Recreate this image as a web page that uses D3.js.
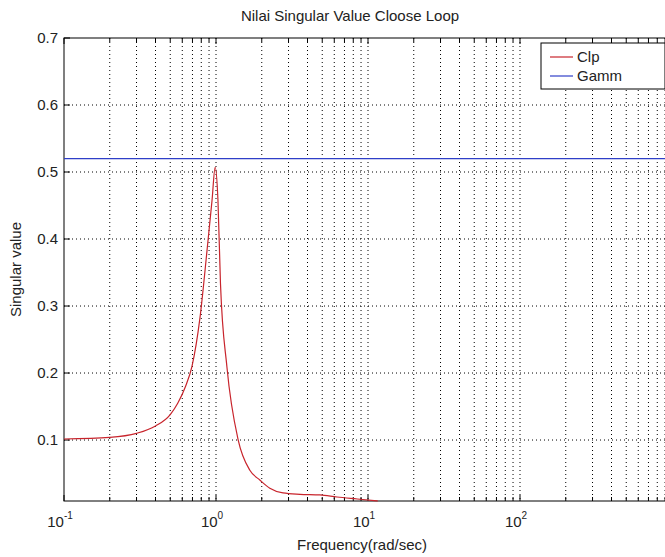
<!DOCTYPE html>
<html>
<head>
<meta charset="utf-8">
<script src="https://cdn.jsdelivr.net/npm/d3@7"></script>
<style>
  html, body { margin: 0; padding: 0; background: #fff; }
  svg { display: block; font-family: "Liberation Sans", Arial, sans-serif; }
</style>
</head>
<body>
<svg id="chart" width="665" height="557"></svg>
<script>
// Closed-loop singular value (Clp) versus frequency
const clpFreq = [0.1, 0.2, 0.3, 0.4, 0.5, 0.56, 0.63, 0.695, 0.785, 0.873, 0.942, 0.987,
                 1.03, 1.07, 1.18, 1.40, 1.67, 1.95, 2.26, 2.76, 3.57, 4.83, 6.25, 8.5, 11.6];
const clpValue = [0.1015, 0.104, 0.110, 0.121, 0.138, 0.155, 0.180, 0.210, 0.283, 0.383, 0.458, 0.507,
                  0.458, 0.334, 0.209, 0.100, 0.055, 0.040, 0.028, 0.021, 0.019, 0.018, 0.015, 0.012, 0.009];
// Gamma bound (Gamm), constant over the band
const gammFreq = [0.1, 1000];
const gammValue = [0.52, 0.52];

const yTicks = [0.1, 0.2, 0.3, 0.4, 0.5, 0.6, 0.7];
const xDecades = [0.1, 1, 10, 100];
const xDecadeExp = ["-1", "0", "1", "2"];
const legendNames = ["Clp", "Gamm"];
const legendColors = ["#c8242c", "#2f3fc8"];

const svg = d3.select("#chart");
const pL = 64, pR = 672, pT = 38, pB = 501;

const x = d3.scaleLog().domain([0.1, 1000]).range([pL, pR]);
const y = d3.scaleLinear().domain([0.009, 0.7]).range([pB, pT]);

// grid positions: every integer multiple inside each decade
const minorX = [];
[0.1, 1, 10, 100].forEach(d => { for (let k = 1; k <= 9; k++) minorX.push(d * k); });

const grid = svg.append("g");
grid.selectAll("line.gx").data(minorX.filter(v => v > 0.1)).join("line")
  .attr("x1", d => x(d)).attr("x2", d => x(d))
  .attr("y1", pT).attr("y2", pB)
  .attr("stroke", "#000").attr("stroke-width", 1)
  .attr("stroke-dasharray", "1,3");
grid.selectAll("line.gy").data(yTicks.filter(v => v < 0.7)).join("line")
  .attr("x1", pL).attr("x2", pR)
  .attr("y1", d => y(d)).attr("y2", d => y(d))
  .attr("stroke", "#000").attr("stroke-width", 1)
  .attr("stroke-dasharray", "1,3");

// frame
svg.append("rect").attr("x", pL).attr("y", pT)
  .attr("width", pR - pL).attr("height", pB - pT)
  .attr("fill", "none").attr("stroke", "#000").attr("stroke-width", 1);

// tick marks (inward) on bottom/top
const tk = svg.append("g").attr("stroke", "#000").attr("stroke-width", 1);
minorX.forEach(v => {
  const L = xDecades.includes(v) ? 6 : 4;
  tk.append("line").attr("x1", x(v)).attr("x2", x(v)).attr("y1", pB).attr("y2", pB - L);
  tk.append("line").attr("x1", x(v)).attr("x2", x(v)).attr("y1", pT).attr("y2", pT + L);
});
yTicks.forEach(v => {
  tk.append("line").attr("x1", pL).attr("x2", pL + 6).attr("y1", y(v)).attr("y2", y(v));
  tk.append("line").attr("x1", pR).attr("x2", pR - 6).attr("y1", y(v)).attr("y2", y(v));
});

// y tick labels
svg.append("g").selectAll("text").data(yTicks).join("text")
  .attr("x", pL - 6).attr("y", d => y(d)).attr("dy", "0.35em")
  .attr("text-anchor", "end").attr("font-size", 15).attr("fill", "#222")
  .text(d => d.toFixed(1));

// x tick labels as powers of ten
const xl = svg.append("g").selectAll("text").data(xDecades).join("text")
  .attr("x", d => x(d) - 4).attr("y", pB + 26)
  .attr("text-anchor", "middle").attr("font-size", 15).attr("fill", "#222");
xl.append("tspan").text("10");
xl.append("tspan").attr("dy", -8).attr("font-size", 10).text((d, i) => xDecadeExp[i]);

// axis titles
svg.append("text").attr("x", (pL + pR) / 2 - 18).attr("y", 21)
  .attr("text-anchor", "middle").attr("font-size", 15).attr("fill", "#222")
  .text("Nilai Singular Value Cloose Loop");
svg.append("text").attr("x", (pL + pR) / 2 - 6).attr("y", 550)
  .attr("text-anchor", "middle").attr("font-size", 15).attr("fill", "#222")
  .text("Frequency(rad/sec)");
svg.append("text").attr("transform", `translate(21,${(pT + pB) / 2}) rotate(-90)`)
  .attr("text-anchor", "middle").attr("font-size", 15).attr("fill", "#222")
  .text("Singular value");

// series lines
const line = d3.line().x(d => x(d[0])).y(d => y(d[1]));
svg.append("path").datum(gammFreq.map((f, i) => [f, gammValue[i]]))
  .attr("d", line).attr("fill", "none").attr("stroke", legendColors[1]).attr("stroke-width", 1.2);
svg.append("path").datum(clpFreq.map((f, i) => [f, clpValue[i]]))
  .attr("d", d3.line().curve(d3.curveMonotoneX).x(d => x(d[0])).y(d => y(d[1])))
  .attr("fill", "none").attr("stroke", legendColors[0]).attr("stroke-width", 1.2);

// legend
const lg = svg.append("g").attr("transform", "translate(541,43)");
lg.append("rect").attr("width", 124).attr("height", 46)
  .attr("fill", "#fff").attr("stroke", "#000").attr("stroke-width", 1);
legendNames.forEach((n, i) => {
  const yy = 14 + i * 19;
  lg.append("line").attr("x1", 9).attr("x2", 32).attr("y1", yy).attr("y2", yy)
    .attr("stroke", legendColors[i]).attr("stroke-width", 1.2);
  lg.append("text").attr("x", 36).attr("y", yy).attr("dy", "0.35em")
    .attr("font-size", 15).attr("fill", "#222").text(n);
});
</script>
</body>
</html>
